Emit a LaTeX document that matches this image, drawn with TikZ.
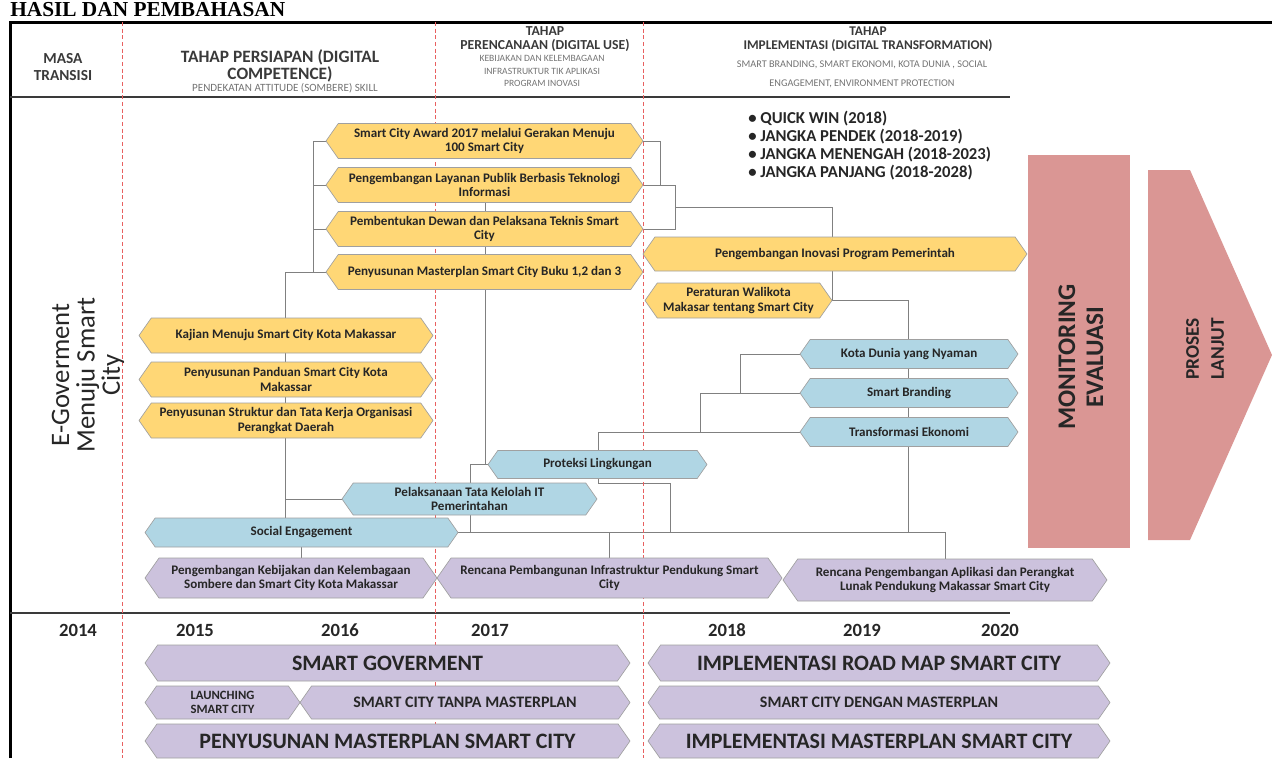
\documentclass[tikz,border=0pt]{standalone}
\usepackage{fontspec}
\setmainfont{Carlito}
\newfontfamily\judulfont{Liberation Serif}
\usetikzlibrary{shapes.symbols,backgrounds}

\definecolor{ylwfill}{RGB}{255,215,118}
\definecolor{blufill}{RGB}{176,214,228}
\definecolor{prpfill}{RGB}{204,194,221}
\definecolor{salmon}{RGB}{218,150,148}
\definecolor{boxline}{RGB}{160,160,160}
\definecolor{connline}{RGB}{128,128,128}
\definecolor{redline}{RGB}{232,96,96}
\definecolor{txtdark}{RGB}{38,38,38}
\definecolor{txtgray}{RGB}{58,58,58}
\definecolor{txtlight}{RGB}{115,115,115}

\tikzset{
  conn/.style={draw=connline, line width=0.6pt},
  hexbox/.style={shape=signal, signal to=east and west, signal pointer angle=110,
    draw=boxline, line width=0.5pt, align=center, inner sep=1pt, text=txtdark,
    font=\bfseries\fontsize{9.8}{11}\selectfont},
  ylwbox/.style={hexbox, fill=ylwfill},
  blubox/.style={hexbox, fill=blufill},
  prpbox/.style={hexbox, fill=prpfill},
  barbox/.style={hexbox, fill=prpfill, font=\bfseries\fontsize{16.5}{18}\selectfont},
  boxsize/.style 2 args={minimum width=#1*0.75pt, minimum height=#2*0.75pt},
  phase/.style={align=center, text=txtgray, font=\bfseries\fontsize{9.5}{11.25}\selectfont},
  phasenote/.style={align=center, text=txtlight, font=\fontsize{6.8}{9.4}\selectfont},
  year/.style={text=txtdark, font=\bfseries\fontsize{14}{16}\selectfont},
  divider/.style={draw=redline, line width=0.6pt, dash pattern=on 3pt off 2pt},
}

\begin{document}
\begin{tikzpicture}[x=0.75pt, y=-0.75pt]
\useasboundingbox (0,0) rectangle (1272,758);

\node[anchor=base west, inner sep=0pt, font=\judulfont\bfseries\fontsize{16}{18}\selectfont] (judul) at (10,16) {HASIL DAN PEMBAHASAN};

% frame and dividers
\draw[line width=2.25pt] (10,758) -- (10,22) -- (1272,22);
\draw[draw=txtgray, line width=1pt] (10,97) -- (1010,97);
\draw[draw=txtgray, line width=1pt] (10,613) -- (1010,613);
\foreach \dx in {122,435,643}
  \draw[divider] (\dx,22) -- (\dx,758);

% header
\node[phase, font=\bfseries\fontsize{11.5}{12.75}\selectfont] (masa) at (63,67) {MASA\\TRANSISI};
\node[phase, font=\bfseries\fontsize{13}{12.75}\selectfont] (persiapan) at (280,66) {TAHAP PERSIAPAN (DIGITAL\\COMPETENCE)};
\node[phasenote, font=\fontsize{8.3}{10}\selectfont] (persiapannote) at (285,88) {PENDEKATAN ATTITUDE (SOMBERE) SKILL};
\node[phase, font=\bfseries\fontsize{10.3}{10.5}\selectfont] (rencana) at (545,39) {TAHAP\\PERENCANAAN (DIGITAL USE)};
\node[phasenote, font=\fontsize{7.2}{9.4}\selectfont] (rencananote) at (542,71) {KEBIJAKAN DAN KELEMBAGAAN\\INFRASTRUKTUR TIK APLIKASI\\PROGRAM INOVASI};
\node[phase, font=\bfseries\fontsize{10}{10.5}\selectfont] (implementasi) at (868,39) {TAHAP\\IMPLEMENTASI (DIGITAL TRANSFORMATION)};
\node[phasenote, font=\fontsize{7.7}{14}\selectfont] (implnote) at (862,74) {SMART BRANDING, SMART EKONOMI, KOTA DUNIA , SOCIAL\\ENGAGEMENT, ENVIRONMENT PROTECTION};

\node[anchor=north west, align=left, inner sep=0pt, text=txtdark, font=\bfseries\fontsize{12.5}{13.5}\selectfont] (jangka) at (748,111)
  {\textbullet\ QUICK WIN (2018)\\\textbullet\ JANGKA PENDEK (2018-2019)\\\textbullet\ JANGKA MENENGAH (2018-2023)\\\textbullet\ JANGKA PANJANG (2018-2028)};

\node[rotate=90, align=center, text=txtdark, font=\fontsize{20}{19}\selectfont] (egov) at (88,375) {E-Goverment\\Menuju Smart\\City};

% yellow
\node[ylwbox, boxsize={317}{35}] (y1) at (484.5,141) {Smart City Award 2017 melalui Gerakan Menuju\\100 Smart City};
\node[ylwbox, boxsize={317}{35}] (y2) at (484.5,185) {Pengembangan Layanan Publik Berbasis Teknologi\\Informasi};
\node[ylwbox, boxsize={317}{35}] (y3) at (484.5,229) {Pembentukan Dewan dan Pelaksana Teknis Smart\\City};
\node[ylwbox, boxsize={317}{35}] (y4) at (484.5,272) {Penyusunan Masterplan Smart City Buku 1,2 dan 3};
\node[ylwbox, boxsize={384}{34}] (y5) at (835,254) {Pengembangan Inovasi Program Pemerintah};
\node[ylwbox, boxsize={187}{35}] (y6) at (738.5,300.5) {Peraturan Walikota\\Makasar tentang Smart City};
\node[ylwbox, boxsize={294}{35}] (y7) at (286,335.5) {Kajian Menuju Smart City Kota Makassar};
\node[ylwbox, boxsize={294}{35}] (y8) at (286,379.5) {Penyusunan Panduan Smart City Kota\\Makassar};
\node[ylwbox, boxsize={294}{35}] (y9) at (286,420.5) {Penyusunan Struktur dan Tata Kerja Organisasi\\Perangkat Daerah};

% blue
\node[blubox, boxsize={218}{29}] (b1) at (909,354) {Kota Dunia yang Nyaman};
\node[blubox, boxsize={218}{29}] (b2) at (909,393) {Smart Branding};
\node[blubox, boxsize={218}{29}] (b3) at (909,432) {Transformasi Ekonomi};
\node[blubox, boxsize={219}{28}] (b4) at (597.5,464.5) {Proteksi Lingkungan};
\node[blubox, boxsize={255}{32}] (b5) at (469.5,499) {Pelaksanaan Tata Kelolah IT\\Pemerintahan};
\node[blubox, boxsize={313}{29}] (b6) at (301.5,532.5) {Social Engagement};

% purple
\node[prpbox, boxsize={292}{40}] (p1) at (291,578) {Pengembangan Kebijakan dan Kelembagaan\\Sombere dan Smart City Kota Makassar};
\node[prpbox, boxsize={345}{40}] (p2) at (609.5,578) {Rencana Pembangunan Infrastruktur Pendukung Smart\\City};
\node[prpbox, boxsize={324}{42}] (p3) at (945,580) {Rencana Pengembangan Aplikasi dan Perangkat\\Lunak Pendukung Makassar Smart City};

% years
\foreach \yr/\yx in {2014/78,2015/195,2016/340,2017/490,2018/727,2019/862,2020/1000}
  \node[year] (th\yr) at (\yx,630) {\yr};

\node[barbox, boxsize={485}{36}] (g1) at (387.5,663) {SMART GOVERMENT};
\node[barbox, boxsize={462}{36}] (g2) at (879,663) {IMPLEMENTASI ROAD MAP SMART CITY};
\node[barbox, boxsize={155}{33}, font=\bfseries\fontsize{9.5}{11}\selectfont] (g3) at (222.5,702.5) {LAUNCHING\\SMART CITY};
\node[barbox, boxsize={330}{33}, font=\bfseries\fontsize{12}{14}\selectfont] (g4) at (465,702.5) {SMART CITY TANPA MASTERPLAN};
\node[barbox, boxsize={462}{33}, font=\bfseries\fontsize{12}{14}\selectfont] (g5) at (879,702.5) {SMART CITY DENGAN MASTERPLAN};
\node[barbox, boxsize={485}{34}] (g6) at (387.5,741) {PENYUSUNAN MASTERPLAN SMART CITY};
\node[barbox, boxsize={462}{34}] (g7) at (879,741) {IMPLEMENTASI MASTERPLAN SMART CITY};

% right side
\fill[salmon] (1028,155) rectangle (1130,548);
\node[rotate=90, align=center, text=txtdark, font=\bfseries\fontsize{19}{21}\selectfont] (monev) at (1081,357) {MONITORING\\EVALUASI};
\fill[salmon] (1148,170) -- (1190,170) -- (1272,355) -- (1190,540) -- (1148,540) -- cycle;
\node[rotate=90, align=center, text=txtdark, font=\bfseries\fontsize{14.5}{18.75}\selectfont] (lanjut) at (1205,349) {PROSES\\LANJUT};

% connectors
\begin{scope}[on background layer]
\coordinate (jl) at (313,272);
\coordinate (jk) at (285,272);
\coordinate (jp) at (485,464.5);
\coordinate (jq) at (470,464.5);
\coordinate (bus) at (945,532.5);
\coordinate (ja) at (660,185);
\coordinate (jb) at (675,207);
\coordinate (jd) at (908,300.5);
\coordinate (jf) at (740,393);
\coordinate (jg) at (700,393);
\coordinate (jh) at (598,432);
\coordinate (ji) at (598,483);
\coordinate (jj) at (670,483);
\draw[conn] (y1.west) -| (jl) -- (y4.west);
\draw[conn] (y2.west) -- (y2.west -| jl);
\draw[conn] (y3.west) -- (y3.west -| jl);
\draw[conn] (jl) -- (jk) -- (jk |- b6.north);
\draw[conn] (b5.west) -- (b5.west -| jk);
\draw[conn] (y2 -| jp) -- (jp) -- (b4.west);
\draw[conn] (jp) -- (jq) -- (jq |- bus);
\draw[conn] (b6.east) -- (bus) -- (p3.north);
\draw[conn] (b6.south) -- (b6.south |- p1.north);
\draw[conn] (p2.north) -- (p2.north |- bus);
\draw[conn] (y1.east) -| (ja);
\draw[conn] (y2.east) -| (jb);
\draw[conn] (y3.east) -| (jb);
\draw[conn] (jb) -| (y6.east);
\draw[conn] (y6.east) -- (jd) -- (jd |- bus);
\draw[conn] (b1.west) -| (jf) -- (b2.west);
\draw[conn] (jf) -- (jg) |- (b3.west);
\draw[conn] (jh) -- (b3.west);
\draw[conn] (jh) -- (ji) -- (jj) -- (jj |- bus);
\end{scope}
\end{tikzpicture}
\end{document}
